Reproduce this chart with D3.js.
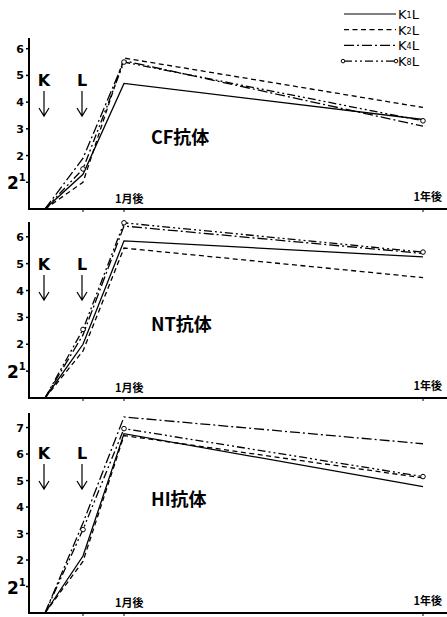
<!DOCTYPE html>
<html>
<head>
<meta charset="utf-8">
<script src="https://cdn.jsdelivr.net/npm/d3@7"></script>
<style>
  body { margin: 0; background: #fff; }
  svg { display: block; }
  .num { font-family: "DejaVu Sans", sans-serif; font-weight: bold; }
  .jp { font-family: "Noto Sans CJK JP", sans-serif; font-weight: bold; }
</style>
</head>
<body>
<svg id="chart" width="447" height="617"></svg>
<script>
// time points (K injection, L injection, 1 month, 1 year)
var timepoints = ["K", "L", "1月後", "1年後"];
var seriesNames = ["K1L", "K2L", "K4L", "K8L"];
var seriesSubs = ["1", "2", "4", "8"];

// log2 titres
var cfK1L = [0, 1.3, 4.7, 3.35];
var cfK2L = [0, 1.0, 5.65, 3.8];
var cfK4L = [0, 1.9, 5.55, 3.1];
var cfK8L = [0, 1.5, 5.5, 3.3];

var ntK1L = [0, 2.0, 5.85, 5.25];
var ntK2L = [0, 1.75, 5.58, 4.48];
var ntK4L = [0, 2.35, 6.4, 5.38];
var ntK8L = [0, 2.55, 6.52, 5.43];

var hiK1L = [0, 2.15, 6.77, 4.77];
var hiK2L = [0, 1.95, 6.7, 5.1];
var hiK4L = [0, 3.4, 7.4, 6.39];
var hiK8L = [0, 3.15, 6.96, 5.15];

var cfTicks = [1, 2, 3, 4, 5, 6];
var ntTicks = [1, 2, 3, 4, 5, 6];
var hiTicks = [1, 2, 3, 4, 5, 6, 7];

var panels = [
  { title: "CF抗体", ticks: cfTicks, ymax: 6.4, base: 209, top: 38, series: [cfK1L, cfK2L, cfK4L, cfK8L], titleY: 144, kY: 74, xlab: "1月後" },
  { title: "NT抗体", ticks: ntTicks, ymax: 6.55, base: 398, top: 222, series: [ntK1L, ntK2L, ntK4L, ntK8L], titleY: 331, kY: 258, xlab: "1月後" },
  { title: "HI抗体", ticks: hiTicks, ymax: 7.55, base: 613, top: 413, series: [hiK1L, hiK2L, hiK4L, hiK8L], titleY: 506, kY: 447, xlab: "1月後" }
];

var dashes = [null, "5,3.5", "10,3,2,3", "8,3,2,3,2,3"];

var svg = d3.select("#chart");
var x = d3.scaleOrdinal().domain(timepoints).range([45, 83, 124, 423]);
var axisX = 29;

panels.forEach(function (p) {
  var y = d3.scaleLinear().domain([0, p.ymax]).range([p.base, p.top]);
  var g = svg.append("g");

  // axes
  g.append("line").attr("x1", axisX).attr("x2", axisX).attr("y1", y(p.ymax)).attr("y2", p.base)
    .attr("stroke", "#000").attr("stroke-width", 2);
  g.append("line").attr("x1", axisX - 1).attr("x2", 447).attr("y1", p.base).attr("y2", p.base)
    .attr("stroke", "#000").attr("stroke-width", 2);

  // y ticks
  p.ticks.forEach(function (t) {
    g.append("line").attr("x1", axisX - 3).attr("x2", axisX).attr("y1", y(t)).attr("y2", y(t))
      .attr("stroke", "#000").attr("stroke-width", 1.5);
    if (t === 1) {
      var tx = g.append("text").attr("class", "num").attr("x", 7).attr("y", y(t) + 7)
        .attr("font-size", 17).text("2");
      tx.append("tspan").attr("font-size", 10).attr("dy", -8).text("1");
    } else {
      g.append("text").attr("class", "num").attr("x", 24).attr("y", y(t) + 4)
        .attr("text-anchor", "end").attr("font-size", 11).text(t);
    }
  });

  // x ticks
  timepoints.slice(1).forEach(function (tp) {
    g.append("line").attr("x1", x(tp)).attr("x2", x(tp)).attr("y1", p.base).attr("y2", p.base + 3)
      .attr("stroke", "#000").attr("stroke-width", 1);
  });
  g.append("text").attr("class", "jp").attr("x", x("1月後") - 9).attr("y", p.base - 6)
    .attr("font-size", 11).text(p.xlab);
  g.append("text").attr("class", "jp").attr("x", 442).attr("y", p.base - 8)
    .attr("text-anchor", "end").attr("font-size", 11).text("1年後");

  // K / L arrows
  ["K", "L"].forEach(function (k) {
    var ax = x(k) - 1;
    g.append("text").attr("class", "num").attr("x", ax).attr("y", p.kY + 12)
      .attr("text-anchor", "middle").attr("font-size", 16).style("font-weight", "600").text(k);
    g.append("path")
      .attr("d", "M" + ax + "," + (p.kY + 17) + "V" + (p.kY + 42) + "M" + (ax - 5) + "," + (p.kY + 34) + "L" + ax + "," + (p.kY + 42) + "L" + (ax + 5) + "," + (p.kY + 34))
      .attr("fill", "none").attr("stroke", "#000").attr("stroke-width", 1.2);
  });

  // title
  g.append("text").attr("class", "jp").attr("x", 151).attr("y", p.titleY)
    .attr("font-size", 18).text(p.title);

  // lines
  var line = d3.line().x(function (d, i) { return x(timepoints[i]); }).y(function (d) { return y(d); });
  p.series.forEach(function (s, si) {
    g.append("path").datum(s).attr("d", line).attr("fill", "none")
      .attr("stroke", "#000").attr("stroke-width", 1.3)
      .attr("stroke-dasharray", dashes[si]);
    if (si === 3) {
      g.selectAll(null).data(s.slice(1)).enter().append("circle")
        .attr("cx", function (d, i) { return x(timepoints[i + 1]); })
        .attr("cy", function (d) { return y(d); })
        .attr("r", 2.3).attr("fill", "#fff").attr("stroke", "#000").attr("stroke-width", 1);
    }
  });
});

// legend
var leg = svg.append("g");
seriesNames.forEach(function (n, i) {
  var ly = 14 + i * 15.7;
  leg.append("line").attr("x1", 344).attr("x2", 396).attr("y1", ly).attr("y2", ly)
    .attr("stroke", "#000").attr("stroke-width", 1.2).attr("stroke-dasharray", dashes[i]);
  if (i === 3) {
    [343, 396].forEach(function (cx) {
      leg.append("circle").attr("cx", cx).attr("cy", ly).attr("r", 1.8)
        .attr("fill", "#fff").attr("stroke", "#000").attr("stroke-width", 1);
    });
  }
  var t = leg.append("text").attr("class", "num").style("font-weight", "normal")
    .attr("x", 398).attr("y", ly + 5).attr("font-size", 13).text("K");
  t.append("tspan").attr("font-size", 8).attr("dy", -1).text(seriesSubs[i]);
  t.append("tspan").attr("font-size", 13).attr("dy", 1).text("L");
});
</script>
</body>
</html>
